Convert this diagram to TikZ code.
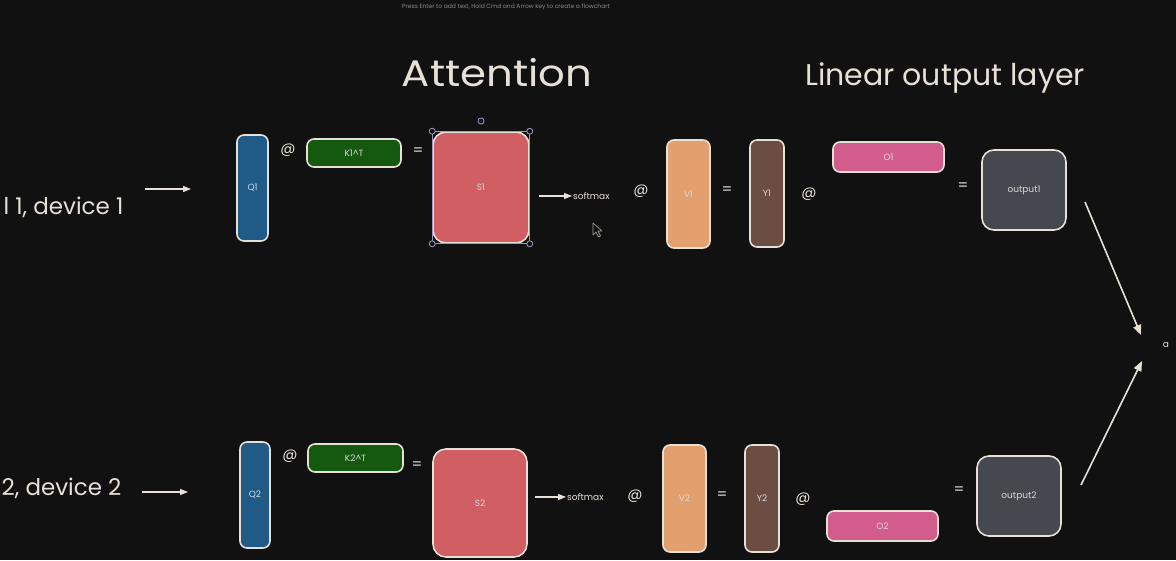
\documentclass[tikz,border=0pt]{standalone}
\usepackage{fontspec}
\setmainfont{Poppins}
\usetikzlibrary{arrows.meta}
\definecolor{bg}{HTML}{111111}
\definecolor{edge}{HTML}{E6E0D6}
\definecolor{qblue}{HTML}{1F5B86}
\definecolor{kgreen}{HTML}{15590F}
\definecolor{sred}{HTML}{D05E62}
\definecolor{vorange}{HTML}{E2A06E}
\definecolor{ybrown}{HTML}{6B4D42}
\definecolor{opink}{HTML}{D25C8C}
\definecolor{ogray}{HTML}{45484E}
\definecolor{sel}{HTML}{9C98C8}
\definecolor{hint}{HTML}{8A8A8A}
\tikzset{
  mat/.style={draw=edge, line width=1.6pt, rounded corners=7pt, inner sep=0pt,
     font=\fontsize{9}{10}\selectfont, text=white!85!black},
  bigmat/.style={mat, rounded corners=13pt},
  op/.style={text=edge, font=\fontsize{15}{15}\selectfont},
  lbl/.style={text=edge, font=\fontsize{23}{24}\selectfont},
  title/.style={text=edge, font=\fontsize{31}{34}\selectfont},
  sm/.style={text=edge, font=\fontsize{9}{10}\selectfont, inner sep=1pt},
  arr/.style={draw=edge, line width=1.3pt, -{Triangle[length=8pt,width=6pt]}},
  bigarr/.style={arr, line width=1.6pt, -{Triangle[length=10pt,width=8pt]}},
  handle/.style={draw=sel, fill=bg, line width=0.8pt}
}
\begin{document}
\begin{tikzpicture}[x=1pt,y=-1pt]
\fill[bg] (0,0) rectangle (1176,560);
\useasboundingbox (0,0) rectangle (1176,560);

% hint
\node[text=hint, font=\fontsize{6}{7}\selectfont] (hintt) at (506,7) {Press Enter to add text, Hold Cmd and Arrow key to create a flowchart};

% titles
\node[title, font=\fontsize{37}{40}\selectfont] (att) at (497,73) {\scalebox{1.13}[1]{Attention}};
\node[title, font=\fontsize{30}{34}\selectfont] (lin) at (945,78) {Linear output layer};

% row labels
\node[lbl, anchor=east] (dev1) at (127,207) {l 1, device 1};
\node[lbl, anchor=east] (dev2) at (125,488) {2, device 2};

% ---------- row 1 ----------
\node[mat, fill=qblue, minimum width=31pt, minimum height=106pt] (Q1) at (252.5,188) {Q1};
\node[op] (at1a) at (288,150) {@};
\node[mat, fill=kgreen, minimum width=94pt, minimum height=28pt] (K1) at (354,153) {K1\^{}T};
\node[op] (eq1a) at (418,152) {=};
\node[bigmat, fill=sred, minimum width=96pt, minimum height=111pt] (S1) at (481,187.5) {S1};
\node[sm, anchor=west] (sm1) at (572,196) {softmax};
\node[op] (at1b) at (641,191) {@};
\node[mat, fill=vorange, minimum width=43pt, minimum height=108pt] (V1) at (688.5,194) {V1};
\node[op] (eq1b) at (727,191) {=};
\node[mat, fill=ybrown, minimum width=34pt, minimum height=107pt] (Y1) at (767,193.5) {Y1};
\node[op] (at1c) at (809,194) {@};
\node[mat, fill=opink, minimum width=111pt, minimum height=30pt] (O1) at (888.5,157) {O1};
\node[op] (eq1c) at (963,187) {=};
\node[bigmat, rounded corners=12pt, fill=ogray, minimum width=84pt, minimum height=80pt] (out1) at (1024,190) {output1};

% selection handles on S1
\draw[sel, line width=0.8pt] (S1.north west) rectangle (S1.south east);
\draw[handle] (S1.north west) circle (3pt);
\draw[handle] (S1.north east) circle (3pt);
\draw[handle] (S1.south west) circle (3pt);
\draw[handle] (S1.south east) circle (3pt);
\draw[handle] (481,121) circle (3pt);

% ---------- row 2 ----------
\node[mat, fill=qblue, minimum width=30pt, minimum height=106pt] (Q2) at (255,495) {Q2};
\node[op] (at2a) at (290,456) {@};
\node[mat, fill=kgreen, minimum width=95pt, minimum height=28pt] (K2) at (355.5,458) {K2\^{}T};
\node[op] (eq2a) at (417,466) {=};
\node[bigmat, fill=sred, minimum width=94pt, minimum height=108pt] (S2) at (480,503) {S2};
\node[sm, anchor=west] (sm2) at (566,497) {softmax};
\node[op] (at2b) at (635,496) {@};
\node[mat, fill=vorange, minimum width=43pt, minimum height=107pt] (V2) at (684.5,498.5) {V2};
\node[op] (eq2b) at (722,496) {=};
\node[mat, fill=ybrown, minimum width=34pt, minimum height=107pt] (Y2) at (762,498.5) {Y2};
\node[op] (at2c) at (803,499) {@};
\node[mat, fill=opink, minimum width=111pt, minimum height=30pt] (O2) at (882.5,526) {O2};
\node[op] (eq2c) at (959,491) {=};
\node[bigmat, rounded corners=12pt, fill=ogray, minimum width=84pt, minimum height=80pt] (out2) at (1019,496) {output2};

% final node
\node[sm] (a) at (1166,345) {a};

% ---------- connectors ----------
\coordinate (in1s) at (145,189);
\coordinate (in1e) at (191,189);
\coordinate (in2s) at (142,492);
\coordinate (in2e) at (188,492);
\draw[arr] (in1s) -- (in1e);
\draw[arr] (in2s) -- (in2e);
\coordinate (sm1s) at (539,196);
\coordinate (sm2s) at (535,497);
\draw[arr] (sm1s) -- (sm1.west);
\draw[arr] (sm2s) -- (sm2.west);
\coordinate (o1s) at (1085,202);
\coordinate (o1e) at (1141,335);
\coordinate (o2s) at (1081,485);
\coordinate (o2e) at (1142,361);
\draw[bigarr] (o1s) -- (o1e);
\draw[bigarr] (o2s) -- (o2e);

% mouse cursor
\draw[edge!70!black, fill=bg, line width=0.7pt, line join=round]
  (593,223) -- (593,235) -- (596,232) -- (598.5,237) -- (600.5,236) -- (598,231) -- (602,231) -- cycle;
\end{tikzpicture}
\end{document}
